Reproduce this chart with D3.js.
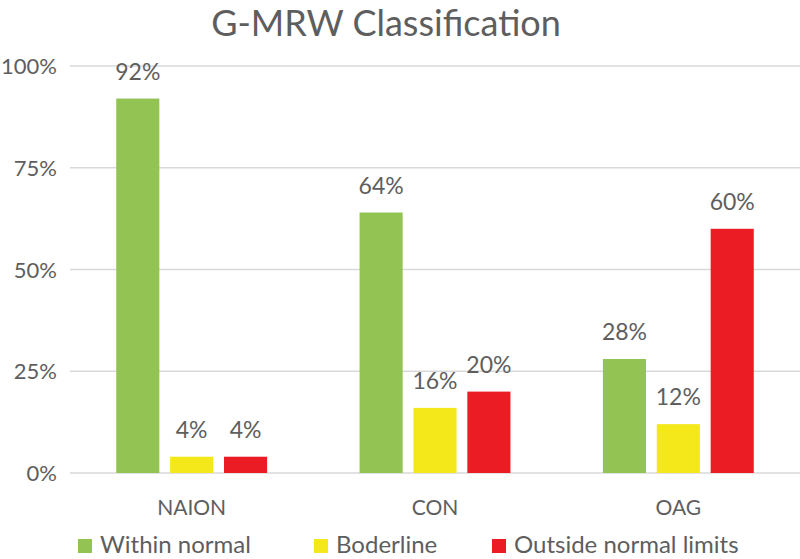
<!DOCTYPE html>
<html><head><meta charset="utf-8">
<script src="https://cdn.jsdelivr.net/npm/d3@7/dist/d3.min.js"></script>
<style>body{margin:0;background:#fff;}text{font-family:Lato,"Open Sans",sans-serif;fill:#5e5e5e;}</style>
</head><body><svg id="c" width="800" height="559"></svg>
<script>
const categories = ["NAION","CON","OAG"];
const seriesNames = ["Within normal","Boderline","Outside normal limits"];
const withinNormal = [92,64,28];
const borderline = [4,16,12];
const outsideLimits = [4,20,60];
const yTicks = [0,25,50,75,100];
const colors = ["#92c353","#f5e81a","#ec1c24"];
const seriesValues = [withinNormal, borderline, outsideLimits];

const svg = d3.select("#c");
const x0 = d3.scaleBand().domain(categories).range([70,800]);
const x1 = d3.scaleBand().domain(seriesNames).range([x0.bandwidth()*0.19, x0.bandwidth()*0.81]).paddingInner(0.2);
const y = d3.scaleLinear().domain([0,100]).range([473,66]);

svg.append("text").attr("x",386).attr("y",36).attr("text-anchor","middle").style("font-size","36px").text("G-MRW Classification");

svg.append("g").selectAll("line").data(yTicks).join("line")
  .attr("x1",70).attr("x2",800).attr("y1",d=>y(d)).attr("y2",d=>y(d))
  .attr("stroke","#d9d9d9").attr("stroke-width",1.5);
svg.append("g").selectAll("text").data(yTicks).join("text")
  .attr("x",57).attr("y",d=>y(d)+8).attr("text-anchor","end").style("font-size","22px").text(d=>d+"%");

const data = [];
categories.forEach((c,i)=>seriesNames.forEach((s,j)=>data.push({c,s,j,v:seriesValues[j][i]})));
svg.append("g").selectAll("rect").data(data).join("rect")
  .attr("x",d=>x0(d.c)+x1(d.s)).attr("width",x1.bandwidth())
  .attr("y",d=>y(d.v)).attr("height",d=>y(0)-y(d.v)).attr("fill",d=>colors[d.j]);
svg.append("g").selectAll("text").data(data).join("text")
  .attr("x",d=>x0(d.c)+x1(d.s)+x1.bandwidth()/2).attr("y",d=>y(d.v)-19)
  .attr("text-anchor","middle").style("font-size","23px").text(d=>d.v+"%");

svg.append("g").selectAll("text").data(categories).join("text")
  .attr("x",d=>x0(d)+x0.bandwidth()/2).attr("y",515).attr("text-anchor","middle").style("font-size","21px").text(d=>d);

const legX = [78,314,492];
const lg = svg.append("g").selectAll("g").data(seriesNames).join("g").attr("transform",(d,i)=>`translate(${legX[i]},546)`);
lg.append("rect").attr("x",0).attr("y",-7).attr("width",14).attr("height",14).attr("fill",(d,i)=>colors[i]);
lg.append("text").attr("x",22).attr("y",7).style("font-size","24px").text(d=>d);
</script></body></html>
